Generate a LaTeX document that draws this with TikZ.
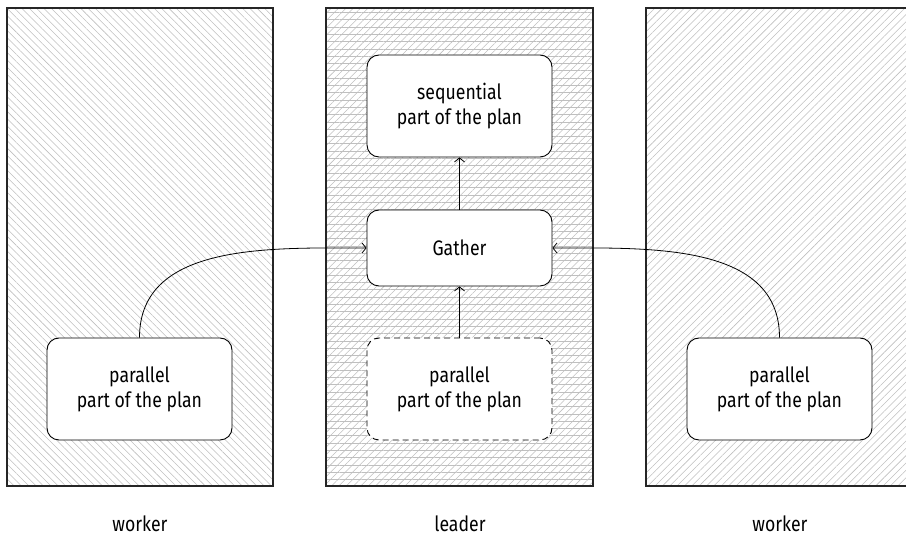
\documentclass[tikz,border=0pt]{standalone}
\usepackage{fontspec}
\setmainfont{Fira Sans}[FakeStretch=0.84]
\usetikzlibrary{patterns.meta,arrows.meta}
\begin{document}
\begin{tikzpicture}[x=1pt,y=1pt,
  panel/.style={draw=black!85,line width=1.2pt},
  hatchnw/.style={pattern={Lines[angle=-45,distance=5.2pt,line width=0.55pt]},pattern color=black!25},
  hatchne/.style={pattern={Lines[angle=45,distance=5.2pt,line width=0.55pt]},pattern color=black!25},
  hatchh/.style={pattern={Lines[angle=0,distance=7.3pt,line width=0.6pt]},pattern color=black!25},
  box/.style={draw=black,line width=0.9pt,fill=white,rounded corners=12pt,minimum width=185pt,align=center,font=\fontsize{21}{25}\selectfont},
  lbl/.style={font=\fontsize{21}{25}\selectfont,anchor=base},
  conn/.style={draw=black,line width=0.8pt,-{Straight Barb[length=4pt,width=10pt,line width=0.8pt]}}
]
\useasboundingbox (0,0) rectangle (906,538);
% panels
\fill[hatchnw] (7,52) rectangle (273,530);
\draw[panel] (7,52) rectangle (273,530);
\fill[hatchne] (326,52) rectangle (593,530);
\fill[hatchh] (326,52) rectangle (593,530);
\draw[panel] (326,52) rectangle (593,530);
\fill[hatchne] (646,52) rectangle (920,530);
\draw[panel] (646,52) rectangle (920,530);
% nodes
\node[box,minimum height=102pt] (seq) at (459.5,432) {sequential\\part of the plan};
\node[box,minimum height=76pt] (gather) at (459.5,290) {Gather};
\node[box,minimum height=102pt,dashed,dash pattern=on 6pt off 4pt] (lpar) at (459.5,149) {parallel\\part of the plan};
\node[box,minimum height=102pt] (wl) at (139.5,149) {parallel\\part of the plan};
\node[box,minimum height=102pt] (wr) at (779.5,149) {parallel\\part of the plan};
% labels
\node[lbl] (l1) at (140,6) {worker};
\node[lbl] (l2) at (460,6) {leader};
\node[lbl] (l3) at (780,6) {worker};
% connectors
\draw[conn] (gather.north) -- (seq.south);
\draw[conn] (lpar.north) -- (gather.south);
\draw[conn] (wl.north) to[out=90,in=180] (gather.west);
\draw[conn] (wr.north) to[out=90,in=0] (gather.east);
\end{tikzpicture}
\end{document}
